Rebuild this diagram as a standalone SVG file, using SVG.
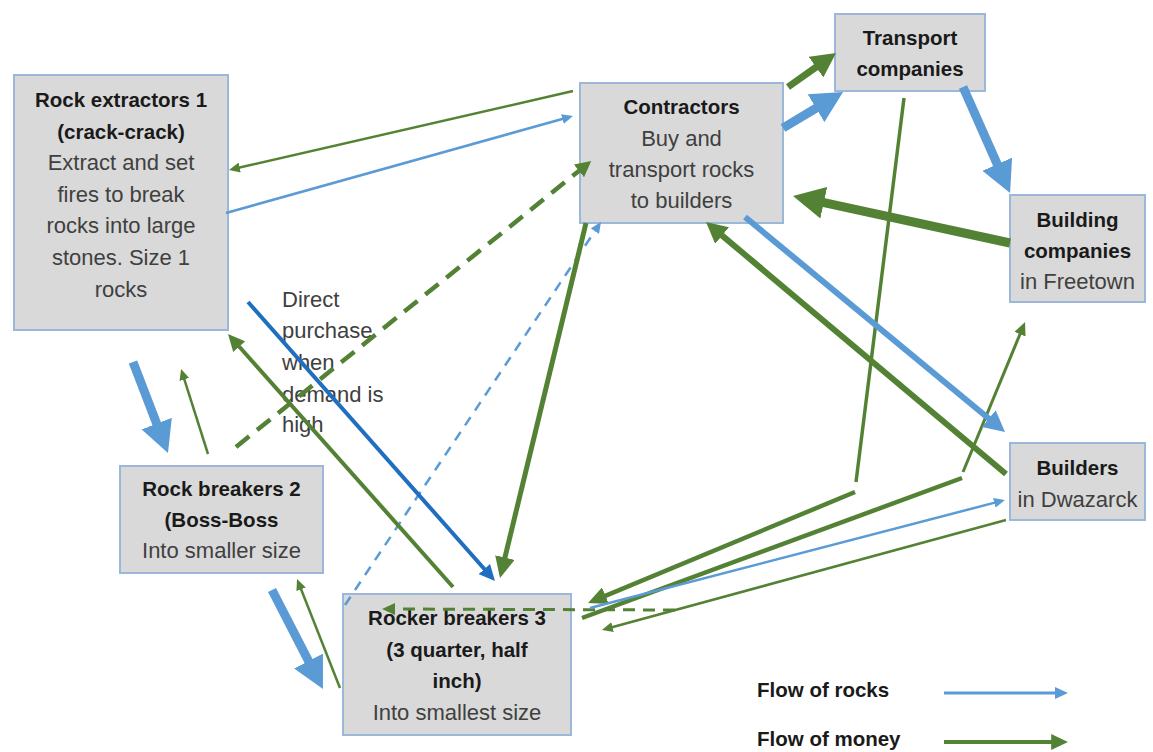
<svg xmlns="http://www.w3.org/2000/svg" width="1153" height="752" viewBox="0 0 1153 752">
<style>
.box{fill:#D9D9D9;stroke:#9BB7DA;stroke-width:2}
.t{font-family:"Liberation Sans",Arial,sans-serif;font-size:20.5px;font-weight:bold;fill:#1A1A1A;text-anchor:middle}
.r{font-family:"Liberation Sans",Arial,sans-serif;font-size:22px;fill:#404040;text-anchor:middle}
.lbl{font-family:"Liberation Sans",Arial,sans-serif;font-size:22px;fill:#404040}
.g{fill:none;stroke:#548235;stroke-linecap:butt}
.b{fill:none;stroke:#5B9BD5;stroke-linecap:butt}
.db{fill:none;stroke:#1F6EC0;stroke-linecap:butt}
.ga{marker-end:url(#ag)}
.ba{marker-end:url(#ab)}
.gt{marker-end:url(#agt)}
.bt{marker-end:url(#abt)}
.gm{marker-end:url(#agm)}
.dba{marker-end:url(#adb)}
</style>
<defs>
<marker id="ag" viewBox="0 0 3.5 3.6" refX="0.5" refY="1.8" markerWidth="3.5" markerHeight="3.6" orient="auto"><path d="M0,0 L3.5,1.8 L0,3.6 z" fill="#548235"/></marker>
<marker id="ab" viewBox="0 0 3.5 3.6" refX="0.5" refY="1.8" markerWidth="3.5" markerHeight="3.6" orient="auto"><path d="M0,0 L3.5,1.8 L0,3.6 z" fill="#5B9BD5"/></marker>
<marker id="agt" viewBox="0 0 4.4 4" refX="1.4" refY="2" markerWidth="4.4" markerHeight="4" orient="auto"><path d="M0,0 L4.4,2 L0,4 z" fill="#548235"/></marker>
<marker id="abt" viewBox="0 0 4.4 4" refX="1.4" refY="2" markerWidth="4.4" markerHeight="4" orient="auto"><path d="M0,0 L4.4,2 L0,4 z" fill="#5B9BD5"/></marker>
<marker id="agm" viewBox="0 0 4.2 4" refX="1.2" refY="2" markerWidth="4.2" markerHeight="4" orient="auto"><path d="M0,0 L4.2,2 L0,4 z" fill="#548235"/></marker>
<marker id="adb" viewBox="0 0 4 3.8" refX="1" refY="1.9" markerWidth="4" markerHeight="3.8" orient="auto"><path d="M0,0 L4,1.9 L0,3.8 z" fill="#1F6EC0"/></marker>
</defs>
<rect width="1153" height="752" fill="#FFFFFF"/>

<g id="rock-extractors-1">
<rect class="box" x="14" y="75" width="214" height="255"/>
<text class="t" x="121" y="107">Rock extractors 1</text>
<text class="t" x="121" y="138.5">(crack-crack)</text>
<text class="r" x="121" y="170">Extract and set</text>
<text class="r" x="121" y="202">fires to break</text>
<text class="r" x="121" y="233">rocks into large</text>
<text class="r" x="121" y="265">stones. Size 1</text>
<text class="r" x="121" y="297">rocks</text>
</g>

<g id="contractors">
<rect class="box" x="580" y="83" width="203" height="140"/>
<text class="t" x="681.5" y="114">Contractors</text>
<text class="r" x="681.5" y="146">Buy and</text>
<text class="r" x="681.5" y="177">transport rocks</text>
<text class="r" x="681.5" y="208">to builders</text>
</g>

<g id="transport-companies">
<rect class="box" x="835" y="14" width="150" height="77"/>
<text class="t" x="910" y="45">Transport</text>
<text class="t" x="910" y="76">companies</text>
</g>

<g id="building-companies">
<rect class="box" x="1010" y="195" width="135" height="107"/>
<text class="t" x="1077.5" y="227">Building</text>
<text class="t" x="1077.5" y="258">companies</text>
<text class="r" x="1077.5" y="289">in Freetown</text>
</g>

<g id="builders">
<rect class="box" x="1010" y="443" width="135" height="77"/>
<text class="t" x="1077.5" y="475">Builders</text>
<text class="r" x="1077.5" y="507">in Dwazarck</text>
</g>

<g id="rock-breakers-2">
<rect class="box" x="120" y="466" width="203" height="107"/>
<text class="t" x="221.5" y="496">Rock breakers 2</text>
<text class="t" x="221.5" y="527">(Boss-Boss</text>
<text class="r" x="221.5" y="558">Into smaller size</text>
</g>

<g id="rocker-breakers-3">
<rect class="box" x="343" y="594" width="228" height="141"/>
<text class="t" x="457" y="625">Rocker breakers 3</text>
<text class="t" x="457" y="657">(3 quarter, half</text>
<text class="t" x="457" y="688">inch)</text>
<text class="r" x="457" y="720">Into smallest size</text>
</g>

<g id="label-direct-purchase">
<text class="lbl" x="282" y="307">Direct</text>
<text class="lbl" x="282" y="338">purchase</text>
<text class="lbl" x="282" y="370">when</text>
<text class="lbl" x="282" y="402">demand is</text>
<text class="lbl" x="282" y="432">high</text>
</g>

<g id="connectors">
<path class="g gt" stroke-width="2.5" d="M573,91 L236.3,168.3"/>
<path class="b bt" stroke-width="2.5" d="M226,213 L565.8,118"/>
<path class="g ga" stroke-width="4.5" stroke-dasharray="17 10" d="M236,447 L580.7,169.5"/>
<path class="b bt" stroke-width="2.5" stroke-dasharray="10 8" d="M345,605 L596.8,228.2"/>
<path class="g gm" stroke-width="5" d="M586,223 L503.5,563.4"/>
<path class="db dba" stroke-width="4" d="M248,302 L487,572"/>
<path class="g gm" stroke-width="4" d="M453,587 L236,343"/>
<path class="b ba" stroke-width="9" d="M133,362 L158.3,427.8"/>
<path class="g gt" stroke-width="2.5" d="M208,454 L183.3,376.1"/>
<path class="b ba" stroke-width="9" d="M272,590 L310.6,665"/>
<path class="g gt" stroke-width="2.5" d="M340,688 L299.8,586"/>
<path class="g gt" stroke-width="3" stroke-dasharray="12 8" d="M675,610 L391,609"/>
<path class="g" stroke-width="3.5" d="M904,98 L856,482"/>
<path class="g gm" stroke-width="4.5" d="M855,492 L600.5,597.8"/>
<path class="g" stroke-width="4.5" d="M582,618 L962,478"/>
<path class="g gt" stroke-width="3" d="M963,472 L1021.6,330.3"/>
<path class="b bt" stroke-width="2.5" d="M590,608 L997.7,501.9"/>
<path class="g gt" stroke-width="2.5" d="M1006,520 L609.2,628"/>
<path class="g ga" stroke-width="6" d="M1006,474 L719.8,233.6"/>
<path class="b ba" stroke-width="6" d="M745,217 L991.1,420.5"/>
<path class="g ga" stroke-width="9" d="M1010,243 L819.4,201.7"/>
<path class="b ba" stroke-width="9" d="M963,87 L999.1,168.3"/>
<path class="b ba" stroke-width="9" d="M783,128 L819.9,105.9"/>
<path class="g ga" stroke-width="7" d="M788,87 L818.9,65.1"/>
</g>

<g id="legend">
<text class="t" x="757" y="697" style="text-anchor:start">Flow of rocks</text>
<path class="b bt" stroke-width="3" d="M944,693 L1059,693"/>
<text class="t" x="757" y="746" style="text-anchor:start">Flow of money</text>
<path class="g gm" stroke-width="4" d="M944,742 L1056,742"/>
</g>
</svg>
